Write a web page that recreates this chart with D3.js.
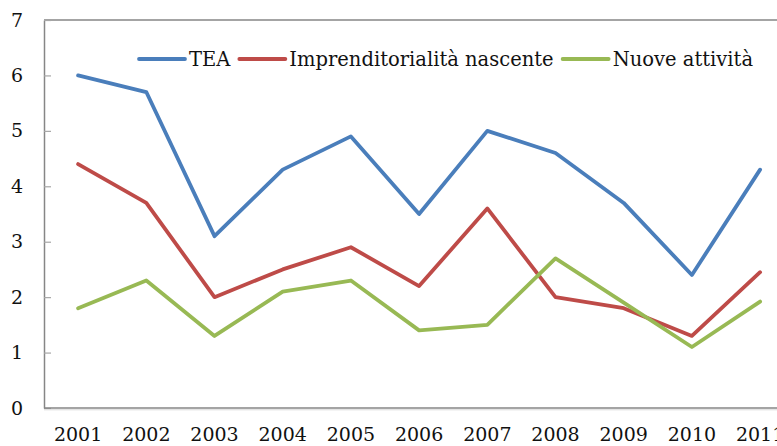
<!DOCTYPE html>
<html>
<head>
<meta charset="utf-8">
<script src="https://cdn.jsdelivr.net/npm/d3@7"></script>
<style>
  body { margin: 0; background: #fff; }
  svg { display: block; }
</style>
</head>
<body>
<div id="mychart"></div>
<script>
// data
const years = ["2001","2002","2003","2004","2005","2006","2007","2008","2009","2010","2011"];
const tea = [6.0, 5.7, 3.1, 4.3, 4.9, 3.5, 5.0, 4.6, 3.7, 2.4, 4.3];
const nascente = [4.4, 3.7, 2.0, 2.5, 2.9, 2.2, 3.6, 2.0, 1.8, 1.3, 2.45];
const nuove = [1.8, 2.3, 1.3, 2.1, 2.3, 1.4, 1.5, 2.7, 1.9, 1.1, 1.92];
const yTicks = [0, 1, 2, 3, 4, 5, 6, 7];

const seriesNames = ["TEA", "Imprenditorialità nascente", "Nuove attività"];
const seriesValues = [tea, nascente, nuove];
const colors = ["#4A7EBB", "#BE4B48", "#98B954"];

mylinechart();

function mylinechart() {
    const W = 777, H = 446;
    // plot area runs past the right edge like the original (cropped)
    const left = 44, top = 20, bottom = 408, step = 68.2;

    const svg = d3.select("#mychart")
                  .append("svg")
                  .attr("width", W)
                  .attr("height", H);

    const x = d3.scaleBand()
                .domain(years)
                .range([left, left + step * years.length]);

    const y = d3.scaleLinear()
                .domain([0, 7])
                .range([bottom, top]);

    const font = "'DejaVu Serif', serif";

    // top border
    svg.append("line")
       .attr("x1", left).attr("x2", W)
       .attr("y1", y(7)).attr("y2", y(7))
       .attr("stroke", "#868686")
       .attr("stroke-width", 1.5);

    // Y axis, ticks point inwards
    const yAxis = svg.append("g")
       .attr("transform", `translate(${left},0)`)
       .call(d3.axisLeft(y).tickValues(yTicks).tickFormat(d3.format("d"))
               .tickSizeInner(-7).tickSizeOuter(0).tickPadding(21));
    yAxis.select(".domain").attr("stroke", "#868686").attr("stroke-width", 1.5);
    yAxis.selectAll(".tick line").attr("stroke", "#a6a6a6").attr("stroke-width", 1.2);
    yAxis.selectAll("text")
         .attr("font-family", font)
         .attr("font-size", 19)
         .attr("fill", "#111");

    // X axis
    const xAxis = svg.append("g")
       .attr("transform", `translate(0,${bottom})`)
       .call(d3.axisBottom(x).tickSize(0).tickPadding(20));
    xAxis.select(".domain").remove();
    xAxis.append("line")
         .attr("x1", left).attr("x2", W)
         .attr("stroke", "#868686")
         .attr("stroke-width", 1.5);
    xAxis.append("line")
         .attr("x1", left).attr("x2", W)
         .attr("y1", 1.8).attr("y2", 1.8)
         .attr("stroke", "#d9d9d9")
         .attr("stroke-width", 1);
    xAxis.selectAll("text")
         .attr("font-family", font)
         .attr("font-size", 19)
         .attr("fill", "#111");

    // lines
    const line = d3.line()
                   .x(function(d, i) { return x(years[i]) + x.bandwidth() / 2; })
                   .y(function(d) { return y(d); });

    svg.selectAll(".series")
       .data(seriesValues)
       .enter()
       .append("path")
       .attr("class", "series")
       .attr("d", line)
       .attr("fill", "none")
       .attr("stroke", function(d, i) { return colors[i]; })
       .attr("stroke-width", 3.8)
       .attr("stroke-linejoin", "round")
       .attr("stroke-linecap", "round");

    // legend
    const legend = svg.append("g");
    let lx = 139;
    const ly = 59;
    seriesNames.forEach(function(name, i) {
        legend.append("line")
              .attr("x1", lx).attr("x2", lx + 46)
              .attr("y1", ly).attr("y2", ly)
              .attr("stroke", colors[i])
              .attr("stroke-width", 3.8)
              .attr("stroke-linecap", "round");
        const t = legend.append("text")
              .attr("x", lx + 50)
              .attr("y", ly + 7)
              .attr("font-family", font)
              .attr("font-size", 19.5)
              .attr("fill", "#111")
              .text(name);
        lx = lx + 50 + t.node().getComputedTextLength() + 9;
    });
}
</script>
</body>
</html>
